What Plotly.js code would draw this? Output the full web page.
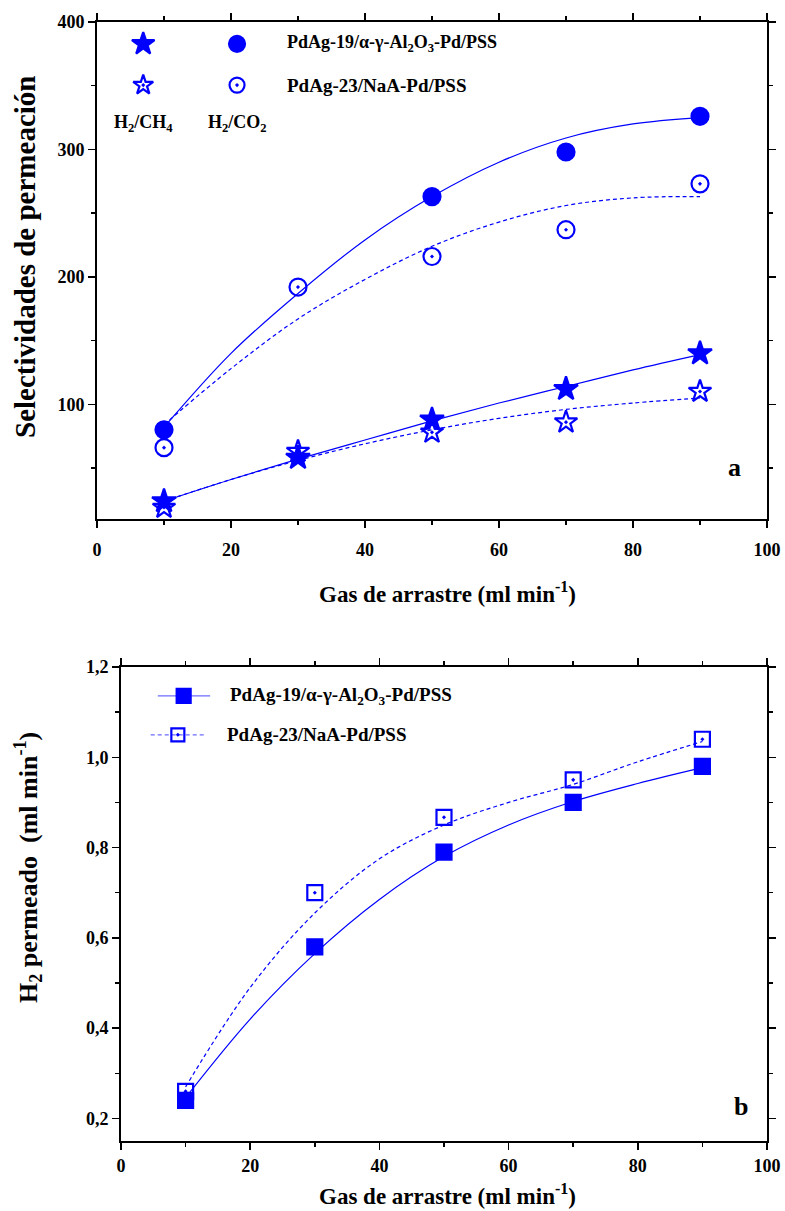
<!DOCTYPE html>
<html>
<head>
<meta charset="utf-8">
<script src="https://cdn.plot.ly/plotly-3.0.1.min.js"></script>
<style>html,body{margin:0;padding:0;background:#fff;}</style>
</head>
<body>
<div id="chart" style="width:785px;height:1211px;"></div>
<script>
// ---- Data ----
const flow = [10, 30, 50, 70, 90];

// Panel a: permeation selectivities
const ch4Pd19 = [24, 58, 88, 112, 140];
const ch4Pd23 = [19, 63, 78, 86, 110];
const co2Pd19 = [80, null, 263, 298, 326];
const co2Pd23 = [66, 192, 216, 237, 273];

// fitted curves
const fitX = [10, 20, 30, 40, 50, 60, 70, 80, 90];
const fitCo2Pd19 = [82, 140, 187, 229, 263, 290, 309, 320, 325];
const fitCo2Pd23 = [84, 128, 167, 198, 224, 243, 256, 262, 263];
const fitCh4Pd19 = [24, 41, 57, 72, 87, 101, 114, 127, 139];
const fitCh4Pd23 = [24, 41, 56, 69, 80, 89, 96, 101, 105];

// Panel b: H2 permeated
const h2Pd19 = [0.24, 0.58, 0.79, 0.90, 0.98];
const h2Pd23 = [0.26, 0.70, 0.867, 0.95, 1.04];
const fitH2Pd19 = [0.246, 0.42, 0.565, 0.685, 0.78, 0.85, 0.902, 0.942, 0.977];
const fitH2Pd23 = [0.27, 0.49, 0.655, 0.775, 0.85, 0.90, 0.94, 0.99, 1.035];

const labelPd19 = '<b>PdAg-19/α-γ-Al<sub>2</sub>O<sub>3</sub>-Pd/PSS</b>';
const labelPd23 = '<b>PdAg-23/NaA-Pd/PSS</b>';
const xTitle = '<b>Gas de arrastre (ml min<sup>-1</sup>)</b>';
const yTitleA = '<b>Selectividades de permeación</b>';
const yTitleB = '<b>H<sub>2</sub> permeado  (ml min<sup>-1</sup>)</b>';

const BLUE = '#0000ff';
const FONT = 'Liberation Serif, Times New Roman, serif';

const traces = [];
function curve(x, y, dash, xa, ya) {
  traces.push({x: x, y: y, mode: 'lines', xaxis: xa, yaxis: ya, showlegend: false,
    line: {color: BLUE, width: 1.2, dash: dash, shape: 'spline', smoothing: 1}, hoverinfo: 'skip'});
}
function pts(x, y, sym, size, xa, ya) {
  traces.push({x: x, y: y, mode: 'markers', xaxis: xa, yaxis: ya, showlegend: false,
    marker: {symbol: sym, size: size, color: BLUE, opacity: 1, line: {color: BLUE, width: 2.2}}});
}

// panel a
curve(fitX, fitCo2Pd19, 'solid', 'x', 'y');
curve(fitX, fitCo2Pd23, '4px,3px', 'x', 'y');
curve(fitX, fitCh4Pd19, 'solid', 'x', 'y');
curve(fitX, fitCh4Pd23, '4px,3px', 'x', 'y');
pts(flow, co2Pd23, 'circle-open-dot', 17, 'x', 'y');
pts(flow, co2Pd19, 'circle', 17, 'x', 'y');
pts(flow, ch4Pd23, 'star-open-dot', 17, 'x', 'y');
pts(flow, ch4Pd19, 'star', 18, 'x', 'y');

// panel b
curve(fitX, fitH2Pd19, 'solid', 'x2', 'y2');
curve(fitX, fitH2Pd23, '4px,3px', 'x2', 'y2');
pts(flow, h2Pd23, 'square-open-dot', 15, 'x2', 'y2');
pts(flow, h2Pd19, 'square', 15, 'x2', 'y2');

// legend keys (overlay axes in 0..1 units)
pts([0.069], [0.956], 'star', 17, 'x3', 'y3');
pts([0.209], [0.956], 'circle', 16, 'x3', 'y3');
pts([0.069], [0.873], 'star-open-dot', 15, 'x3', 'y3');
pts([0.209], [0.873], 'circle-open-dot', 15, 'x3', 'y3');
traces.push({x: [0.057, 0.138], y: [0.939, 0.939], mode: 'lines', xaxis: 'x4', yaxis: 'y4', showlegend: false,
  line: {color: '#6b6bff', width: 1.2}});
pts([0.097], [0.939], 'square', 14, 'x4', 'y4');
traces.push({x: [0.046, 0.130], y: [0.857, 0.857], mode: 'lines', xaxis: 'x4', yaxis: 'y4', showlegend: false,
  line: {color: '#6b6bff', width: 1.2, dash: '4px,3px'}});
pts([0.088], [0.857], 'square-open-dot', 13, 'x4', 'y4');

const axA = [97/785, 767/785];
const ayA = [692/1211, 1189/1211];
const axB = [121/785, 767/785];
const ayB = [70/1211, 544/1211];

function baseAxis(extra) {
  return Object.assign({
    showline: true, linecolor: '#000', linewidth: 2, mirror: 'allticks',
    ticks: 'outside', ticklen: 7, tickwidth: 1.5, tickcolor: '#000',
    showgrid: false, zeroline: false,
    tickfont: {family: FONT, size: 18, color: '#000', weight: 'bold'}
  }, extra);
}

function ann(text, x, y, size, extra) {
  return Object.assign({xref: 'paper', yref: 'paper', x: x / 785, y: 1 - y / 1211,
    xanchor: 'center', yanchor: 'middle', text: text, showarrow: false,
    font: {family: FONT, size: size, color: '#000'}}, extra || {});
}

const layout = {
  width: 785, height: 1211,
  margin: {l: 0, r: 0, t: 0, b: 0},
  paper_bgcolor: '#fff', plot_bgcolor: 'rgba(0,0,0,0)',
  separators: ',.',
  showlegend: false,
  xaxis: baseAxis({domain: axA, anchor: 'y', range: [0, 100], dtick: 20, tick0: 0, ticklabelstandoff: 6,
    minor: {dtick: 10, ticks: 'outside', ticklen: 4, tickcolor: '#000'}}),
  yaxis: baseAxis({domain: ayA, anchor: 'x', range: [10, 400], tickvals: [100, 200, 300, 400],
    minor: {tickvals: [50, 150, 250, 350], ticks: 'outside', ticklen: 4, tickcolor: '#000'}}),
  xaxis2: baseAxis({domain: axB, anchor: 'y2', range: [0, 100], dtick: 20, tick0: 0,
    minor: {dtick: 10, ticks: 'outside', ticklen: 4, tickcolor: '#000'}}),
  yaxis2: baseAxis({domain: ayB, anchor: 'x2', range: [0.15, 1.2], tickvals: [0.2, 0.4, 0.6, 0.8, 1.0, 1.2],
    tickformat: '.1f',
    minor: {tickvals: [0.3, 0.5, 0.7, 0.9, 1.1], ticks: 'outside', ticklen: 4, tickcolor: '#000'}}),
  xaxis3: {overlaying: 'x', anchor: 'y3', range: [0, 1], visible: false, fixedrange: true},
  yaxis3: {overlaying: 'y', anchor: 'x3', range: [0, 1], visible: false, fixedrange: true},
  xaxis4: {overlaying: 'x2', anchor: 'y4', range: [0, 1], visible: false, fixedrange: true},
  yaxis4: {overlaying: 'y2', anchor: 'x4', range: [0, 1], visible: false, fixedrange: true},
  annotations: [
    ann(xTitle, 447, 592, 23),
    ann(xTitle, 447, 1194, 23),
    ann(yTitleA, 25, 257, 29, {textangle: -90}),
    ann(yTitleB, 28, 868, 26, {textangle: -90}),
    {xref: 'x domain', yref: 'y domain', x: 0.281, y: 0.956, xanchor: 'left', yanchor: 'middle',
     text: labelPd19, showarrow: false, font: {family: FONT, size: 18, color: '#000'}},
    {xref: 'x domain', yref: 'y domain', x: 0.281, y: 0.873, xanchor: 'left', yanchor: 'middle',
     text: labelPd23, showarrow: false, font: {family: FONT, size: 19, color: '#000'}},
    {xref: 'x domain', yref: 'y domain', x: 0.069, y: 0.795, xanchor: 'center', yanchor: 'middle',
     text: '<b>H<sub>2</sub>/CH<sub>4</sub></b>', showarrow: false, font: {family: FONT, size: 18, color: '#000'}},
    {xref: 'x domain', yref: 'y domain', x: 0.209, y: 0.795, xanchor: 'center', yanchor: 'middle',
     text: '<b>H<sub>2</sub>/CO<sub>2</sub></b>', showarrow: false, font: {family: FONT, size: 18, color: '#000'}},
    {xref: 'x domain', yref: 'y domain', x: 0.952, y: 0.103, xanchor: 'center', yanchor: 'middle',
     text: '<b>a</b>', showarrow: false, font: {family: FONT, size: 26, color: '#000'}},
    {xref: 'x2 domain', yref: 'y2 domain', x: 0.166, y: 0.939, xanchor: 'left', yanchor: 'middle',
     text: labelPd19, showarrow: false, font: {family: FONT, size: 19, color: '#000'}},
    {xref: 'x2 domain', yref: 'y2 domain', x: 0.161, y: 0.857, xanchor: 'left', yanchor: 'middle',
     text: labelPd23, showarrow: false, font: {family: FONT, size: 19, color: '#000'}},
    {xref: 'x2 domain', yref: 'y2 domain', x: 0.960, y: 0.072, xanchor: 'center', yanchor: 'middle',
     text: '<b>b</b>', showarrow: false, font: {family: FONT, size: 26, color: '#000'}}
  ]
};

Plotly.newPlot('chart', traces, layout, {displayModeBar: false, staticPlot: true});
</script>
</body>
</html>
